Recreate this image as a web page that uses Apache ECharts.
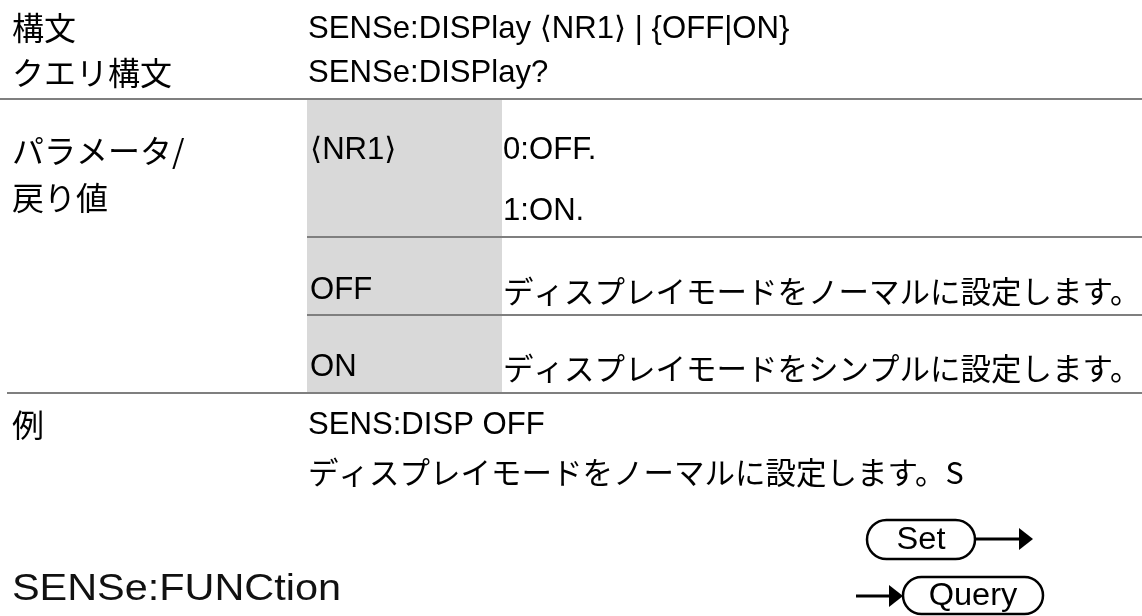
<!DOCTYPE html>
<html><head><meta charset="utf-8">
<script src="https://cdn.jsdelivr.net/npm/echarts@6/dist/echarts.min.js"></script>
<style>html,body{margin:0;padding:0;background:#fff}#c{width:1142px;height:616px}</style>
</head><body><div id="c"></div>
<script>
// ---- content ----
const sectionLabels = ['構文', 'クエリ構文', 'パラメータ/', '戻り値', '例'];
const syntaxLines = ['SENSe:DISPlay ⟨NR1⟩ | {OFF|ON}', 'SENSe:DISPlay?'];
const paramNames = ['⟨NR1⟩', 'OFF', 'ON'];
const paramDescs = [['0:OFF.', '1:ON.'], ['ディスプレイモードをノーマルに設定します。'], ['ディスプレイモードをシンプルに設定します。']];
const exampleLines = ['SENS:DISP OFF', 'ディスプレイモードをノーマルに設定します。S'];
const heading = ['SENSe:FUNCtion'];
const buttons = ['Set', 'Query'];

// ---- layout ----
const LAT = "'Liberation Sans', Arial, 'DejaVu Sans', 'Noto Sans CJK JP', sans-serif";
const JP = "'Noto Sans CJK JP', 'Noto Sans CJK SC', sans-serif";
const INK = '#000';
const RULE = '#7f7f7f';
const SHADE = '#d9d9d9';
const X1 = 12, X2 = 307, X3 = 502, XR = 1142;

function txt(s, x, y, opt) {
  opt = opt || {};
  return {
    type: 'text', x: x, y: y, scaleX: opt.sx || 1, z: 10,
    style: {
      text: s, x: 0, y: 0,
      fontSize: opt.size || 32, fontFamily: opt.font || JP,
      fill: opt.fill || INK,
      align: opt.align || 'left', textAlign: opt.align || 'left',
      verticalAlign: 'middle', textVerticalAlign: 'middle'
    }
  };
}
function hline(x1, x2, y, w) {
  return { type: 'line', z: 5, shape: { x1: x1, y1: y, x2: x2, y2: y }, style: { stroke: RULE, lineWidth: w || 2 } };
}
const LATIN = { size: 30.5, font: LAT, sx: 1.02 };
const JPROW = { size: 30.5 };

const els = [];
// shaded parameter column
els.push({ type: 'rect', z: 1, shape: { x: X2, y: 99, width: X3 - X2, height: 294 }, style: { fill: SHADE } });
// rules
els.push(hline(0, XR, 99));
els.push(hline(X2, XR, 237));
els.push(hline(X2, XR, 315));
els.push(hline(7, XR, 393));

// left labels
const labelY = [28, 73, 151, 198, 425];
sectionLabels.forEach((s, i) => els.push(txt(s, X1, labelY[i], { size: 32 })));

// syntax
const synY = [30, 74];
syntaxLines.forEach((s, i) => els.push(txt(s, X2 + 1, synY[i], LATIN)));

// parameters
const rowY = [[151, 212], [291], [368]];
paramNames.forEach((s, i) => els.push(txt(s, X2 + 3, rowY[i][0], LATIN)));
paramDescs.forEach((lines, i) => lines.forEach((s, j) => {
  const latin = /^[\x00-\x7f]+$/.test(s);
  els.push(txt(s, X3 + 1, rowY[i][j], latin ? LATIN : JPROW));
}));

// example
els.push(txt(exampleLines[0], X2 + 1, 426, LATIN));
els.push(txt(exampleLines[1], X2 + 1, 472, JPROW));

// heading
els.push(txt(heading[0], X1, 590, { size: 36, font: LAT, fill: '#111', sx: 1.15 }));

// Set / Query buttons
const btn = [
  { x: 867, y: 520, w: 108, h: 39, line: [975, 1019], ly: 539, head: 1033 },
  { x: 903, y: 577, w: 140, h: 37, line: [856, 889], ly: 596, head: 903 }
];
buttons.forEach((b, i) => {
  const g = btn[i];
  els.push({ type: 'rect', z: 6, shape: { x: g.x, y: g.y, width: g.w, height: g.h, r: g.h / 2 }, style: { fill: '#fff', stroke: INK, lineWidth: 2.5 } });
  els.push({
    type: 'text', z: 10, x: g.x + g.w / 2, y: g.y + g.h / 2 + 1, scaleX: 1.05,
    style: { text: b, x: 0, y: 0, fontSize: 31, fontFamily: LAT, fill: INK, align: 'center', textAlign: 'center', verticalAlign: 'middle', textVerticalAlign: 'middle' }
  });
  els.push({ type: 'line', z: 6, shape: { x1: g.line[0], y1: g.ly, x2: g.line[1], y2: g.ly }, style: { stroke: INK, lineWidth: 3 } });
  const hx = g.line[1];
  els.push({ type: 'polygon', z: 6, shape: { points: [[hx, g.ly - 11], [g.head, g.ly], [hx, g.ly + 11]] }, style: { fill: INK } });
});

const chart = echarts.init(document.getElementById('c'), null, { renderer: 'canvas' });
chart.setOption({ backgroundColor: '#fff', animation: false, graphic: { elements: els } });
</script></body></html>
